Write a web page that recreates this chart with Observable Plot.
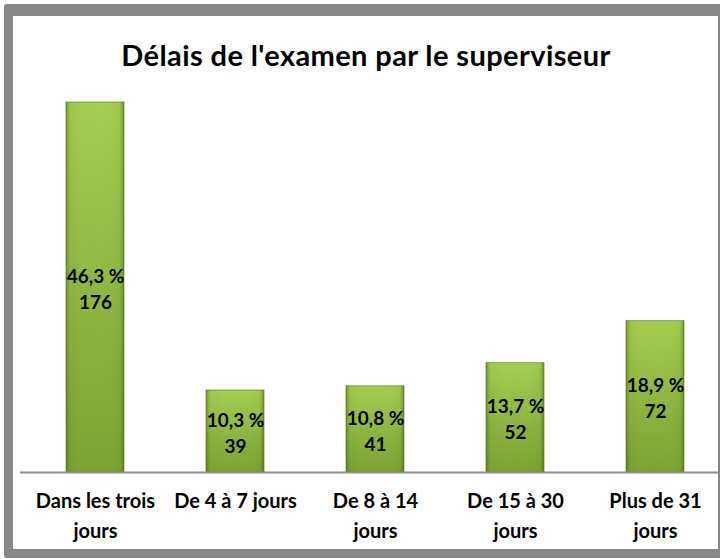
<!DOCTYPE html>
<html>
<head>
<meta charset="utf-8">
<script src="https://cdn.jsdelivr.net/npm/d3@7"></script>
<script src="https://cdn.jsdelivr.net/npm/@observablehq/plot@0.6"></script>
<style>
  html, body { margin: 0; padding: 0; background: #fff; overflow: hidden; width: 720px; height: 559px; }
  #wrap { position: relative; width: 720px; height: 559px; }
  #frame { position: absolute; left: 4px; top: 4px; width: 723px; height: 554px; box-sizing: border-box;
           border-style: solid; border-color: #878787; border-width: 12px 9px 9px 9px; border-radius: 3px; pointer-events: none; z-index: 2; }
  #title { position: absolute; left: 0; top: 37px; width: 732px; text-align: center; font-family: Lato, "Open Sans", sans-serif;
           font-weight: bold; font-size: 29px; letter-spacing: 0.4px; line-height: normal; color: #000; z-index: 3; }
  #chart { position: absolute; left: 0; top: 0; }
  #chart svg { max-width: none; overflow: visible; }
</style>
</head>
<body>
<div id="wrap">
  <div id="chart"></div>
  <div id="title">Délais de l'examen par le superviseur</div>
  <div id="frame"></div>
</div>
<script>
const categories = ["Dans les trois jours", "De 4 à 7 jours", "De 8 à 14 jours", "De 15 à 30 jours", "Plus de 31 jours"];
const tickLabels = ["Dans les trois\njours", "De 4 à 7 jours", "De 8 à 14\njours", "De 15 à 30\njours", "Plus de 31\njours"];
const counts = [176, 39, 41, 52, 72];
const percents = ["46,3 %", "10,3 %", "10,8 %", "13,7 %", "18,9 %"];

const data = categories.map((c, i) => ({cat: c, count: counts[i], pct: percents[i], label: percents[i] + "\n" + counts[i]}));
const tickMap = new Map(categories.map((c, i) => [c, tickLabels[i]]));

const chart = Plot.plot({
  width: 720,
  height: 559,
  marginLeft: 20,
  marginRight: 0,
  marginTop: 102,
  marginBottom: 87,
  style: {background: "transparent", fontFamily: "Lato, 'Open Sans', sans-serif", overflow: "visible"},
  x: {domain: categories, range: [23.75, 726.25], paddingInner: 0.587, paddingOuter: 0.2935, label: null},
  y: {domain: [0, 176], axis: null},
  marks: [
    Plot.barY(data, {x: "cat", y: "count", fill: "url(#barGrad)", stroke: "#56761c", strokeOpacity: 0.6, strokeWidth: 1}),
    Plot.barY(data, {x: "cat", y: "count", fill: "url(#sideGrad)"}),
    Plot.tickY(data, {x: "cat", y: "count", stroke: "url(#bevelGrad)", strokeWidth: 12, dy: 6, inset: 1}),
    Plot.ruleY([0], {stroke: "#8e8e8e", strokeWidth: 2}),
    Plot.axisX({tickSize: 0, tickPadding: 14, fontSize: 20, fontWeight: "bold", lineHeight: 1.5, fill: "#000",
                tickFormat: d => tickMap.get(d), label: null}),
    Plot.text(data, {x: "cat", y: d => d.count / 2, text: "label", fontSize: 19, fontWeight: "bold", fill: "#000", lineHeight: 1.37})
  ]
});

const ns = "http://www.w3.org/2000/svg";
const defs = document.createElementNS(ns, "defs");
defs.innerHTML = `
  <linearGradient id="barGrad" x1="0" y1="0" x2="0" y2="1">
    <stop offset="0" stop-color="#a3cd50"/>
    <stop offset="1" stop-color="#7aa232"/>
  </linearGradient>
  <linearGradient id="sideGrad" x1="0" y1="0" x2="1" y2="0">
    <stop offset="0" stop-color="#3d5a10" stop-opacity="0.45"/>
    <stop offset="0.07" stop-color="#3d5a10" stop-opacity="0.05"/>
    <stop offset="0.5" stop-color="#ffffff" stop-opacity="0"/>
    <stop offset="0.93" stop-color="#3d5a10" stop-opacity="0.05"/>
    <stop offset="1" stop-color="#3d5a10" stop-opacity="0.5"/>
  </linearGradient>
  <linearGradient id="bevelGrad" x1="0" y1="0" x2="1" y2="0">
    <stop offset="0" stop-color="#b2da66"/>
    <stop offset="0.5" stop-color="#bee278"/>
    <stop offset="1" stop-color="#aad45e"/>
  </linearGradient>`;
chart.insertBefore(defs, chart.firstChild);
document.getElementById("chart").appendChild(chart);
</script>
</body>
</html>
